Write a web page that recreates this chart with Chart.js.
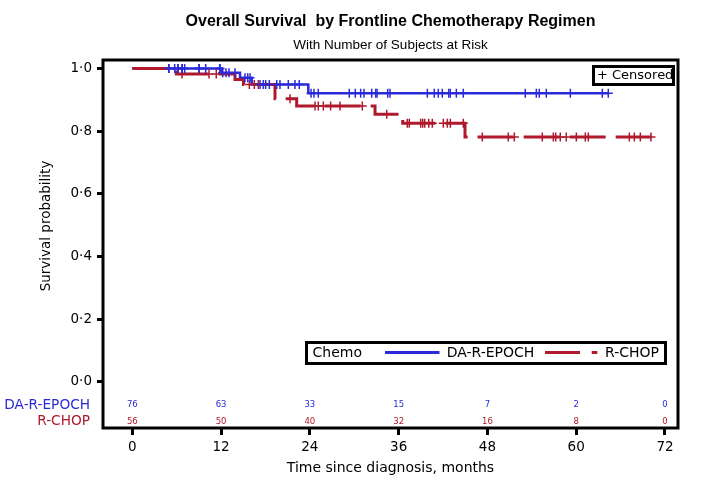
<!DOCTYPE html>
<html><head><meta charset="utf-8">
<script src="https://cdn.jsdelivr.net/npm/chart.js@4.4.1/dist/chart.umd.min.js"></script>
<style>html,body{margin:0;padding:0;background:#fff;}#wrap{width:701px;height:486px;}</style>
</head><body><div id="wrap"><canvas id="c" width="701" height="486"></canvas></div>
<script>
// ---- data ----
const xTicks = [0, 12, 24, 36, 48, 60, 72];
const yTicks = [0, 0.2, 0.4, 0.6, 0.8, 1.0];
const groups = ['DA-R-EPOCH', 'R-CHOP'];
const epochStepTimes = [0, 12.08, 14.56, 16.14, 23.79, 64.34];
const epochStepSurv  = [1, 0.986, 0.970, 0.949, 0.921, 0.921];
const chopStepTimes  = [0, 5.95, 13.88, 15.03, 19.29, 22.22, 32.81, 36.55, 44.97, 70.11];
const chopStepSurv   = [1, 0.982, 0.965, 0.949, 0.903, 0.880, 0.854, 0.825, 0.781, 0.781];
const epochCensor = [4.92, 4.95, 5.73, 6.18, 6.2, 6.72, 6.75, 7.08, 9.02, 9.05, 9.92, 11.81, 11.85,
  12.22, 12.67, 13.07, 13.88, 15.23, 15.60, 15.91, 17.27, 17.71, 18.03, 18.52, 19.52, 19.96, 21.09, 21.99, 22.57,
  24.16, 24.56, 25.14, 29.33, 30.14, 30.87, 31.32, 32.36, 32.90, 33.08, 34.52, 34.83,
  39.88, 40.82, 41.36, 41.90, 42.77, 42.98, 43.80, 44.74,
  53.12, 54.61, 55.01, 55.96, 59.21, 63.53, 64.34];
const chopCensor = [6.72, 10.37, 11.35, 15.82, 16.49, 17.03, 21.32, 24.70, 25.14, 25.82, 26.81, 28.07, 31.09, 34.39,
  37.17, 37.44, 38.98, 39.25, 39.52, 40.07, 40.55, 42.04, 42.58, 42.99, 44.74, 47.31,
  50.82, 51.64, 55.42, 56.91, 57.23, 57.85, 58.66, 60.02, 61.23, 61.64, 67.18, 67.86, 68.67, 70.11];
const atRiskEpoch = [76, 63, 33, 15, 7, 2, 0];
const atRiskChop  = [56, 50, 40, 32, 16, 8, 0];

const BLUE = '#2a2ad8';
const RED = '#b0182c';
const F = 'DejaVu Sans';

function survAt(times, surv, t) {
  let s = surv[0];
  for (let i = 0; i < times.length; i++) { if (times[i] <= t) s = surv[i]; }
  return s;
}

const deco = {
  id: 'deco',
  afterDraw(chart) {
    const { ctx, chartArea: a, scales: { x } } = chart;
    ctx.save();
    ctx.strokeStyle = '#000'; ctx.lineWidth = 3;
    ctx.strokeRect(a.left, a.top, a.right - a.left, a.bottom - a.top);
    const cx = (a.left + a.right) / 2;
    ctx.fillStyle = '#000'; ctx.textAlign = 'center'; ctx.textBaseline = 'middle';
    ctx.font = 'bold 16px "Liberation Sans", Arial, sans-serif';
    ctx.fillText('Overall Survival  by Frontline Chemotherapy Regimen', cx, 22);
    ctx.font = '13.5px "Liberation Sans", Arial, sans-serif';
    ctx.fillText('With Number of Subjects at Risk', cx, 45);
    ctx.font = '14px "' + F + '"';
    ctx.fillText('Time since diagnosis, months', cx, 468);
    ctx.save();
    ctx.translate(46, 226); ctx.rotate(-Math.PI / 2);
    ctx.font = '13.5px "' + F + '"';
    ctx.fillText('Survival probability', 0, 0);
    ctx.restore();
    // at-risk table
    ctx.font = '8.5px "' + F + '"';
    xTicks.forEach((t, i) => {
      const px = x.getPixelForValue(t);
      ctx.fillStyle = BLUE; ctx.fillText(String(atRiskEpoch[i]), px, 405);
      ctx.fillStyle = RED; ctx.fillText(String(atRiskChop[i]), px, 421.5);
    });
    ctx.textAlign = 'right'; ctx.font = '13.7px "' + F + '"';
    ctx.fillStyle = BLUE; ctx.fillText(groups[0], 90, 405);
    ctx.fillStyle = RED; ctx.fillText(groups[1], 90, 421.5);
    // censored box
    ctx.strokeStyle = '#000'; ctx.lineWidth = 3;
    ctx.strokeRect(593.5, 66.5, 80, 18);
    ctx.fillStyle = '#000'; ctx.textAlign = 'left'; ctx.font = '13px "' + F + '"';
    ctx.fillText('+ Censored', 597, 75.5);
    // legend box
    ctx.strokeRect(306.5, 342.5, 359, 21);
    ctx.font = '14px "' + F + '"';
    ctx.fillText('Chemo', 312.5, 353.3);
    ctx.fillText(groups[0], 446.7, 353.3);
    ctx.fillText(groups[1], 605, 353.3);
    ctx.lineWidth = 3; ctx.lineCap = 'butt';
    ctx.strokeStyle = BLUE; ctx.beginPath(); ctx.moveTo(385, 352.5); ctx.lineTo(439.5, 352.5); ctx.stroke();
    ctx.strokeStyle = RED; ctx.beginPath(); ctx.moveTo(545, 352.5); ctx.lineTo(580, 352.5);
    ctx.moveTo(591.7, 352.5); ctx.lineTo(597.3, 352.5); ctx.stroke();
    ctx.restore();
  }
};

new Chart(document.getElementById('c'), {
  type: 'scatter',
  data: {
    datasets: [
      { label: groups[0] + ' censored', data: epochCensor.map(t => ({ x: t, y: survAt(epochStepTimes, epochStepSurv, t) })),
        pointStyle: 'cross', pointRadius: 4.5, pointBorderWidth: 1.5, borderColor: BLUE, backgroundColor: BLUE, showLine: false, order: 0 },
      { label: groups[1] + ' censored', data: chopCensor.map(t => ({ x: t, y: survAt(chopStepTimes, chopStepSurv, t) })),
        pointStyle: 'cross', pointRadius: 4.5, pointBorderWidth: 1.5, borderColor: RED, backgroundColor: RED, showLine: false, order: 0 },
      { label: groups[1], data: chopStepTimes.map((t, i) => ({ x: t, y: chopStepSurv[i] })),
        showLine: true, stepped: 'before', borderColor: RED, borderWidth: 3, borderDash: [36, 10], borderCapStyle: 'butt',
        borderJoinStyle: 'miter', pointRadius: 0, fill: false, order: 1 },
      { label: groups[0], data: epochStepTimes.map((t, i) => ({ x: t, y: epochStepSurv[i] })),
        showLine: true, stepped: 'before', borderColor: BLUE, borderWidth: 2.5, borderCapStyle: 'butt',
        borderJoinStyle: 'miter', pointRadius: 0, fill: false, order: 2 }
    ]
  },
  options: {
    responsive: false, animation: false, devicePixelRatio: 1,
    layout: { padding: { top: 60, right: 23, left: 0, bottom: 0 } },
    plugins: { legend: { display: false }, tooltip: { enabled: false }, title: { display: false } },
    scales: {
      x: {
        type: 'linear', min: -3.96, max: 73.76,
        afterFit(s) { s.height = 58; },
        afterBuildTicks(s) { s.ticks = xTicks.map(v => ({ value: v })); },
        ticks: { font: { family: F, size: 13.5 }, color: '#000', padding: 4, maxRotation: 0, callback: v => String(v) },
        grid: { drawOnChartArea: false, drawTicks: true, tickLength: 7, tickWidth: 3, tickColor: '#000' },
        border: { display: false }
      },
      y: {
        type: 'linear', min: -0.147, max: 1.027,
        afterFit(s) { s.width = 103; },
        afterBuildTicks(s) { s.ticks = yTicks.map(v => ({ value: v })); },
        ticks: { font: { family: F, size: 13.5 }, color: '#000', padding: 5, callback: v => Number(v).toFixed(1).replace('.', '·') },
        grid: { drawOnChartArea: false, drawTicks: true, tickLength: 6, tickWidth: 3, tickColor: '#000' },
        border: { display: false }
      }
    }
  },
  plugins: [deco]
});
</script>
</body></html>
